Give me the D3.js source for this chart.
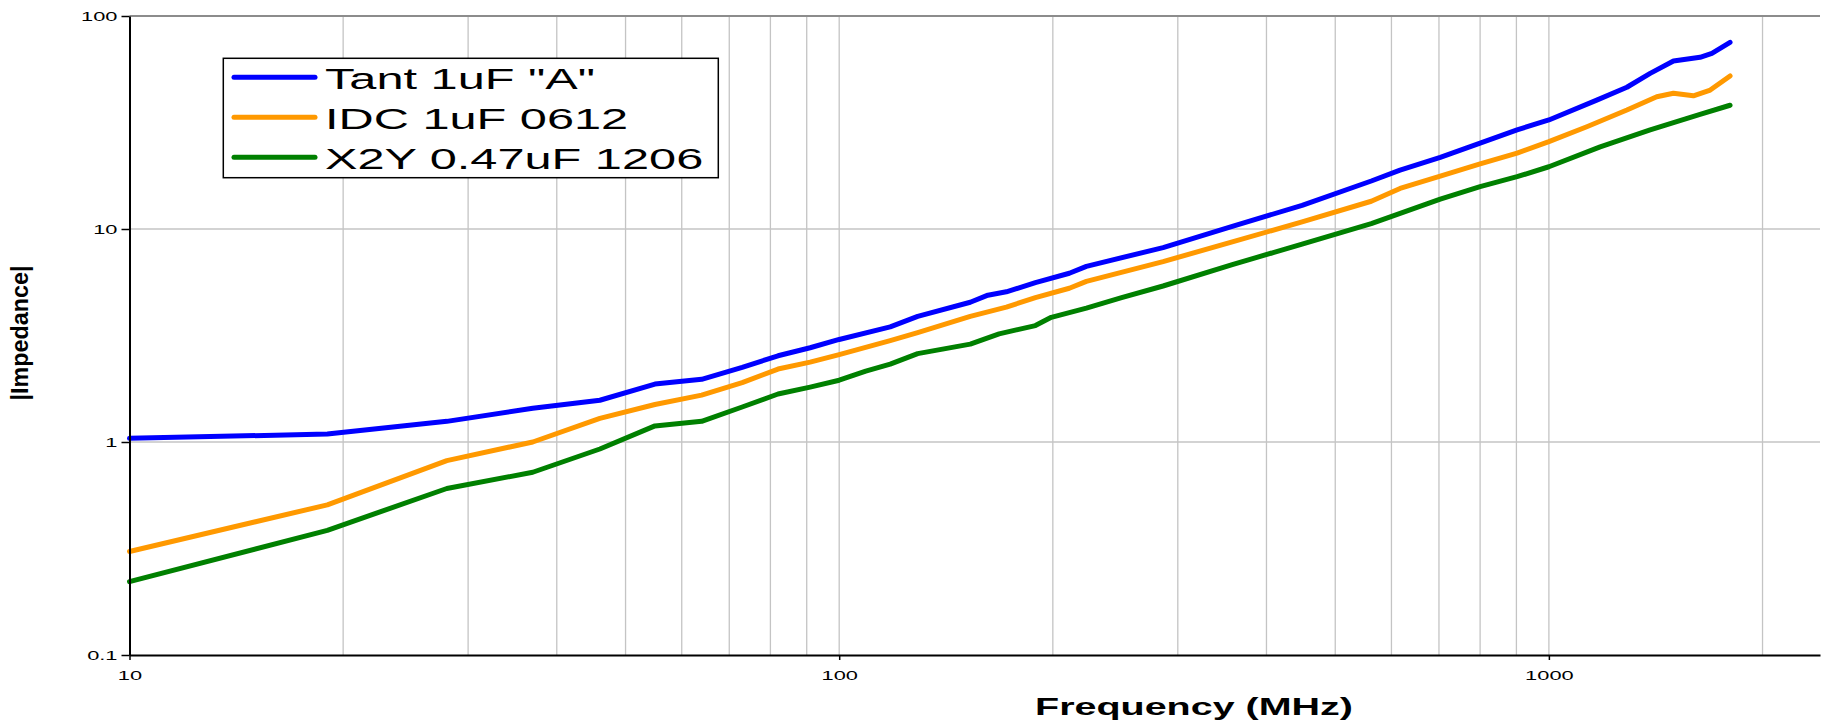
<!DOCTYPE html>
<html>
<head>
<meta charset="utf-8">
<script src="https://cdn.jsdelivr.net/npm/d3@7"></script>
<style>
  body { margin: 0; background: #fff; }
  text { font-family: "Liberation Sans", Arial, Helvetica, sans-serif; fill: #000; }
</style>
</head>
<body>
<svg id="chart" width="1823" height="725"></svg>
<script>
// Measured impedance magnitude (ohms) versus frequency (MHz)
const tantFreq = [10, 19, 28, 37, 46, 55, 64, 73, 82, 91, 100, 118, 129, 153, 162, 172, 189, 211, 223, 286, 358, 449, 562, 617, 703, 800, 902, 1000, 1168, 1288, 1389, 1498, 1633, 1697, 1800];
const tantZ    = [1.04, 1.09, 1.25, 1.44, 1.57, 1.87, 1.97, 2.24, 2.54, 2.77, 3.03, 3.47, 3.89, 4.53, 4.89, 5.07, 5.6, 6.2, 6.68, 8.18, 10.3, 12.9, 16.8, 18.9, 21.7, 25.3, 29.2, 32.5, 40.3, 46.3, 53.8, 61.5, 64.0, 66.8, 75.2];

const idcFreq  = [10, 19, 28, 37, 46, 55, 64, 73, 82, 91, 100, 118, 129, 153, 172, 189, 211, 223, 286, 358, 449, 562, 617, 703, 800, 902, 1000, 1131, 1288, 1419, 1498, 1598, 1688, 1800];
const idcZ     = [0.306, 0.507, 0.818, 1.0, 1.29, 1.50, 1.66, 1.90, 2.2, 2.37, 2.57, 2.99, 3.26, 3.89, 4.3, 4.76, 5.27, 5.68, 7.03, 8.7, 10.8, 13.5, 15.5, 17.7, 20.2, 22.7, 25.7, 30.2, 36.2, 41.8, 43.4, 42.2, 44.9, 52.3];

const x2yFreq  = [10, 19, 28, 37, 46, 55, 64, 73, 82, 91, 100, 109, 118, 129, 153, 168, 189, 199, 223, 250, 286, 358, 449, 562, 703, 800, 902, 1000, 1181, 1389, 1633, 1800];
const x2yZ     = [0.221, 0.385, 0.605, 0.721, 0.927, 1.19, 1.25, 1.46, 1.68, 1.81, 1.95, 2.15, 2.32, 2.6, 2.88, 3.22, 3.52, 3.85, 4.25, 4.76, 5.4, 6.8, 8.5, 10.6, 13.8, 15.8, 17.6, 19.6, 24.3, 29.2, 34.5, 38.1];

const seriesNames  = ['Tant 1uF "A"', 'IDC 1uF 0612', 'X2Y 0.47uF 1206'];
const seriesColors = ["#0000ff", "#ff9900", "#008000"];

const yTickValues = [0.1, 1, 10, 100];
const yTickLabels = ["0.1", "1", "10", "100"];
const xTickValues = [10, 100, 1000];
const xTickLabels = ["10", "100", "1000"];

const xTitle = "Frequency (MHz)";
const yTitle = "|Impedance|";

// ---- layout ----
const plot = { left: 129.5, right: 1820, top: 16, bottom: 655 };
const SX = 1.68;   // horizontal glyph widening applied to upright text

const x = d3.scaleLog().domain([10, 2410]).range([plot.left, plot.right]);
const y = d3.scaleLog().domain([0.1, 100]).range([plot.bottom, plot.top]);

const svg = d3.select("#chart");
svg.append("rect").attr("width", 1823).attr("height", 725).attr("fill", "#fff");

// vertical grid: every 1-9 step of each decade
const gridX = x.ticks().filter(d => d > 10);
svg.append("g").selectAll("line").data(gridX).join("line")
  .attr("x1", d => x(d)).attr("x2", d => x(d))
  .attr("y1", plot.top).attr("y2", plot.bottom)
  .attr("stroke", "#c4c4c4").attr("stroke-width", 1.3);

// horizontal grid: decades only
svg.append("g").selectAll("line").data([1, 10]).join("line")
  .attr("x1", plot.left).attr("x2", plot.right)
  .attr("y1", d => y(d)).attr("y2", d => y(d))
  .attr("stroke", "#c4c4c4").attr("stroke-width", 1.3);

// top frame
svg.append("line")
  .attr("x1", plot.left).attr("x2", plot.right)
  .attr("y1", y(100)).attr("y2", y(100))
  .attr("stroke", "#8c8c8c").attr("stroke-width", 2);

// curves
const series = [
  { freq: tantFreq, z: tantZ },
  { freq: idcFreq,  z: idcZ },
  { freq: x2yFreq,  z: x2yZ }
];
const line = d3.line().x(d => x(d[0])).y(d => y(d[1]));
svg.append("g").selectAll("path").data(series).join("path")
  .attr("d", s => line(s.freq.map((f, i) => [f, s.z[i]])))
  .attr("fill", "none")
  .attr("stroke", (s, i) => seriesColors[i])
  .attr("stroke-width", 5)
  .attr("stroke-linejoin", "round")
  .attr("stroke-linecap", "round");

// y axis
const yAxis = svg.append("g")
  .attr("transform", `translate(${plot.left},0)`)
  .call(d3.axisLeft(y).tickValues(yTickValues)
    .tickFormat((d, i) => yTickLabels[i]).tickSize(8).tickSizeOuter(0));
yAxis.select(".domain").attr("stroke", "#000").attr("stroke-width", 2);
yAxis.selectAll(".tick line").attr("stroke", "#000").attr("stroke-width", 1.5);
yAxis.selectAll(".tick text")
  .attr("x", null).attr("dy", "0.36em")
  .attr("transform", `translate(-12,0) scale(${SX},1)`)
  .attr("text-anchor", "end")
  .style("font-size", "13px");

// x axis
const xAxis = svg.append("g")
  .attr("transform", `translate(0,${plot.bottom})`)
  .call(d3.axisBottom(x).tickValues(xTickValues)
    .tickFormat((d, i) => xTickLabels[i]).tickSize(5).tickSizeOuter(0));
xAxis.select(".domain").attr("stroke", "#000").attr("stroke-width", 2);
xAxis.selectAll(".tick line").attr("stroke", "#000").attr("stroke-width", 1.5);
xAxis.selectAll(".tick text")
  .attr("y", null).attr("dy", null)
  .attr("transform", `translate(0,24.5) scale(${SX},1)`)
  .attr("text-anchor", "middle")
  .style("font-size", "13px");
svg.selectAll(".tick text").attr("fill", "#000");

// axis titles
svg.append("text")
  .attr("transform", `translate(1194,715) scale(${SX},1)`)
  .attr("text-anchor", "middle")
  .style("font-size", "23.5px").style("font-weight", "bold")
  .text(xTitle);

svg.append("text")
  .attr("transform", "translate(28,333) rotate(-90)")
  .attr("text-anchor", "middle")
  .attr("textLength", 135).attr("lengthAdjust", "spacingAndGlyphs")
  .style("font-size", "23px").style("font-weight", "bold")
  .text(yTitle);

// legend
const legend = svg.append("g");
legend.append("rect")
  .attr("x", 223.3).attr("y", 58.3).attr("width", 495).attr("height", 119.4)
  .attr("fill", "#fff").attr("stroke", "#000").attr("stroke-width", 1.5);
const rows = legend.selectAll("g.row").data(seriesNames).join("g")
  .attr("class", "row")
  .attr("transform", (d, i) => `translate(0,${77.3 + i * 40})`);
rows.append("line")
  .attr("x1", 234).attr("x2", 315).attr("y1", 0).attr("y2", 0)
  .attr("stroke", (d, i) => seriesColors[i]).attr("stroke-width", 5)
  .attr("stroke-linecap", "round");
rows.append("text")
  .attr("transform", `translate(325,12) scale(${SX},1)`)
  .style("font-size", "29px")
  .text(d => d);
</script>
</body>
</html>
